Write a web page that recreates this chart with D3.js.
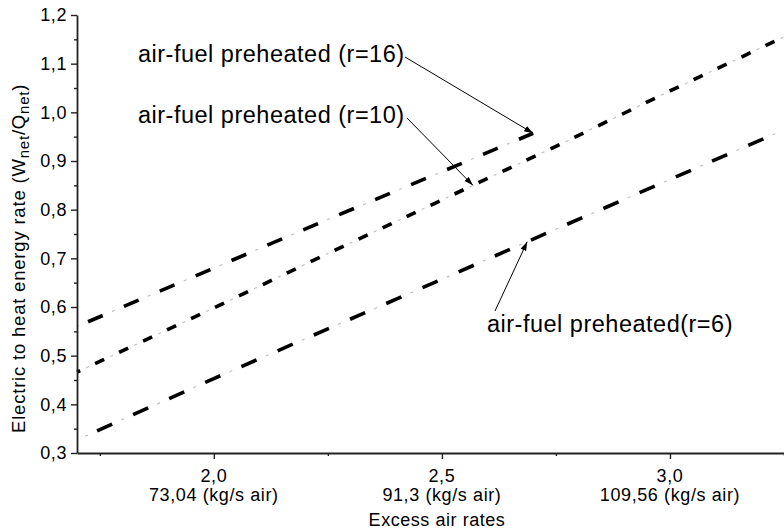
<!DOCTYPE html>
<html>
<head>
<meta charset="utf-8">
<script src="https://cdn.jsdelivr.net/npm/d3@7"></script>
<style>
  html, body { margin: 0; padding: 0; background: #fff; }
  svg { display: block; font-family: Arial, "Liberation Sans", sans-serif; }
</style>
</head>
<body>
<svg id="chart" width="784" height="531"></svg>
<script>
// ---- data ----
const xValues = [1.7, 2.0, 2.25, 2.5, 2.75, 3.0, 3.25];
const r6Values = [0.327, 0.453, 0.555, 0.657, 0.76, 0.862, 0.964];
const r10Values = [0.466, 0.598, 0.71, 0.82, 0.93, 1.044, 1.155];
const r16XValues = [1.7, 2.0, 2.25, 2.5, 2.7];
const r16Values = [0.56, 0.68, 0.78, 0.878, 0.957];

const seriesNames = ["air-fuel preheated (r=16)", "air-fuel preheated (r=10)", "air-fuel preheated(r=6)"];
const yTickValues = [0.3, 0.4, 0.5, 0.6, 0.7, 0.8, 0.9, 1.0, 1.1, 1.2];
const yTickLabels = ["0,3", "0,4", "0,5", "0,6", "0,7", "0,8", "0,9", "1,0", "1,1", "1,2"];
const xTickValues = [2.0, 2.5, 3.0];
const xTickLabels = ["2,0", "2,5", "3,0"];
const xTickMassLabels = ["73,04 (kg/s air)", "91,3 (kg/s air)", "109,56 (kg/s air)"];
const xTitle = "Excess air rates";
// arrow target points (data coords) on each curve
const arrowTargetX = [2.7, 2.568, 2.687];

// ---- layout ----
const svg = d3.select("#chart");
const L = 77, R = 784, T = 15, B = 453;
const x = d3.scaleLinear().domain([1.7, 3.25]).range([L, R]);
const y = d3.scaleLinear().domain([0.3, 1.2]).range([B, T]);

svg.append("defs").append("clipPath").attr("id", "plotclip")
  .append("rect").attr("x", L - 1).attr("y", T - 2).attr("width", R - L + 1).attr("height", B - T + 2);

svg.append("defs").append("marker")
  .attr("id", "arrow").attr("markerUnits", "userSpaceOnUse")
  .attr("markerWidth", 10).attr("markerHeight", 8)
  .attr("refX", 9).attr("refY", 3).attr("orient", "auto")
  .append("path").attr("d", "M0,0 L9,3 L0,6 Z").attr("fill", "#000");

const line = d3.line().x(d => x(d[0])).y(d => y(d[1]));

const series = [
  { xs: r16XValues, ys: r16Values, dash: 16, gap: 23, start: 12 },
  { xs: xValues, ys: r10Values, dash: 10, gap: 16.5, start: 20 },
  { xs: xValues, ys: r6Values, dash: 16.5, gap: 23, start: 22 }
];

const plot = svg.append("g").attr("clip-path", "url(#plotclip)");
series.forEach(s => {
  const pts = s.xs.map((v, i) => [v, s.ys[i]]);
  const period = s.dash + s.gap;
  const off = period - s.start;
  const dotLen = 3;
  const dotPos = s.start + s.dash + s.gap / 2 - dotLen / 2;
  const dotOff = ((period - (dotPos % period)) % period);
  plot.append("path").datum(pts).attr("d", line)
    .attr("fill", "none").attr("stroke", "#bdbdbd").attr("stroke-width", 1.1)
    .attr("stroke-dasharray", `${dotLen},${period - dotLen}`)
    .attr("stroke-dashoffset", dotOff);
  plot.append("path").datum(pts).attr("d", line)
    .attr("fill", "none").attr("stroke", "#000").attr("stroke-width", 3.6)
    .attr("stroke-dasharray", `${s.dash},${s.gap}`)
    .attr("stroke-dashoffset", off);
});

// ---- axes ----
const axisColor = "#222";
const yAxis = svg.append("g").attr("transform", `translate(${L},0)`)
  .call(d3.axisLeft(y).tickValues(yTickValues).tickSize(6).tickSizeOuter(0).tickPadding(4)
    .tickFormat((d, i) => yTickLabels[i]));
yAxis.select(".domain").attr("stroke", axisColor).attr("stroke-width", 1.8);
yAxis.selectAll(".tick line").attr("stroke", axisColor).attr("stroke-width", 1.4);
yAxis.selectAll(".tick text").attr("font-size", 18).attr("fill", "#000")
  .attr("letter-spacing", "0.6px")
  .attr("font-family", "Arial, 'Liberation Sans', sans-serif");

const yMinor = d3.range(0.35, 1.2, 0.1);
svg.append("g").attr("transform", `translate(${L},0)`)
  .call(d3.axisLeft(y).tickValues(yMinor).tickSize(3).tickFormat(""))
  .call(g => g.select(".domain").remove())
  .selectAll(".tick line").attr("stroke", axisColor).attr("stroke-width", 1.4);

const xAxis = svg.append("g").attr("transform", `translate(0,${B})`)
  .call(d3.axisBottom(x).tickValues(xTickValues).tickSize(6).tickSizeOuter(0).tickFormat(""));
xAxis.select(".domain").attr("stroke", axisColor).attr("stroke-width", 1.8);
xAxis.selectAll(".tick line").attr("stroke", axisColor).attr("stroke-width", 1.4);

svg.append("g").attr("transform", `translate(0,${B})`)
  .call(d3.axisBottom(x).tickValues([1.75, 2.25, 2.75, 3.25]).tickSize(3).tickFormat(""))
  .call(g => g.select(".domain").remove())
  .selectAll(".tick line").attr("stroke", axisColor).attr("stroke-width", 1.4);

const xl = svg.append("g").attr("font-size", 18).attr("fill", "#000")
  .attr("text-anchor", "middle").attr("letter-spacing", "0.6px");
xTickValues.forEach((v, i) => {
  xl.append("text").attr("x", x(v)).attr("y", 482).text(xTickLabels[i]);
  xl.append("text").attr("x", x(v)).attr("y", 501).text(xTickMassLabels[i]);
});
svg.append("text").attr("x", 437).attr("y", 526).attr("text-anchor", "middle")
  .attr("font-size", 18).attr("letter-spacing", "0.55px").attr("fill", "#000").text(xTitle);

// y title
const yt = svg.append("text").attr("transform", "translate(25,433) rotate(-90)")
  .attr("font-size", 18.5).attr("letter-spacing", "0.8px").attr("fill", "#000");
yt.append("tspan").text("Electric to heat energy rate (W");
yt.append("tspan").attr("font-size", 15).attr("dy", 4).text("net");
yt.append("tspan").attr("dy", -4).text("/Q");
yt.append("tspan").attr("font-size", 15).attr("dy", 4).text("net");
yt.append("tspan").attr("dy", -4).text(")");

// ---- annotations ----
const annLayout = [
  { tx: 138, ty: 62, sx: 405, sy: 57 },
  { tx: 138, ty: 123, sx: 407, sy: 118 },
  { tx: 487, ty: 332, sx: 495, sy: 311 }
];
const curveVals = [
  t => d3.scaleLinear().domain(r16XValues).range(r16Values)(t),
  t => d3.scaleLinear().domain(xValues).range(r10Values)(t),
  t => d3.scaleLinear().domain(xValues).range(r6Values)(t)
];
annLayout.forEach((a, i) => {
  svg.append("text").attr("x", a.tx).attr("y", a.ty).attr("font-size", 23.5)
    .attr("letter-spacing", "0.5px").attr("fill", "#000").text(seriesNames[i]);
  const tx = arrowTargetX[i];
  svg.append("line").attr("x1", a.sx).attr("y1", a.sy)
    .attr("x2", x(tx)).attr("y2", y(curveVals[i](tx)))
    .attr("stroke", "#000").attr("stroke-width", 1)
    .attr("marker-end", "url(#arrow)");
});
</script>
</body>
</html>
